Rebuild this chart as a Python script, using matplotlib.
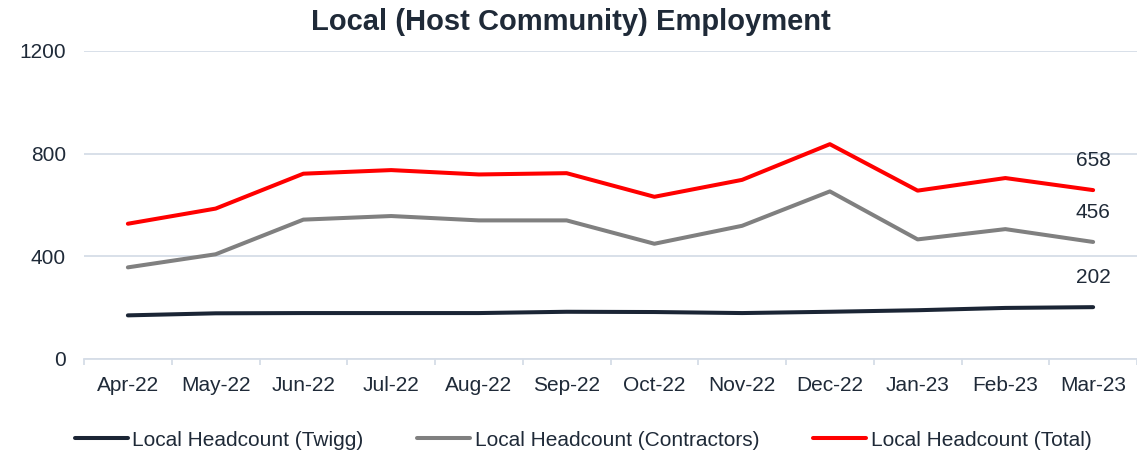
import numpy as np
import matplotlib.pyplot as plt

# data
months = ['Apr-22', 'May-22', 'Jun-22', 'Jul-22', 'Aug-22', 'Sep-22',
          'Oct-22', 'Nov-22', 'Dec-22', 'Jan-23', 'Feb-23', 'Mar-23']
twigg = [170, 178, 179, 179, 179, 184, 183, 179, 184, 190, 199, 202]
contractors = [357, 408, 543, 557, 540, 540, 449, 519, 653, 466, 506, 456]
total = [527, 586, 722, 736, 719, 724, 632, 698, 837, 656, 705, 658]

series = [
    ('Local Headcount (Twigg)', twigg, '#1b2535'),
    ('Local Headcount (Contractors)', contractors, '#808080'),
    ('Local Headcount (Total)', total, '#ff0000'),
]

TEXT = '#1f2a38'
GRID = '#d6dde7'

plt.rcParams['font.family'] = ['Liberation Sans', 'DejaVu Sans']

W, H = 1137, 453
fig = plt.figure(figsize=(W / 100, H / 100), dpi=100)
ax = fig.add_axes([84 / W, (H - 359) / H, (W - 84) / W, (359 - 51) / H])

x = np.arange(len(months))
for name, vals, col in series:
    ax.plot(x, vals, color=col, lw=2.9, label=name, solid_capstyle='round')
    # end-of-series value label
    ax.annotate(str(vals[-1]), (x[-1], vals[-1]), xytext=(0, 21),
                textcoords='offset points', ha='center', va='center',
                fontsize=15, color=TEXT)

ax.set_ylim(0, 1200)
ax.set_yticks([0, 400, 800, 1200])
ax.set_xlim(-0.5, 11.45)
ax.set_xticks(x)
ax.set_xticklabels(months)
ax.set_xticks(np.arange(-0.5, 12, 1.0), minor=True)

ax.grid(axis='y', color=GRID, lw=1.3)
ax.set_axisbelow(True)
for s in ['top', 'right', 'left']:
    ax.spines[s].set_visible(False)
ax.spines['bottom'].set_color(GRID)
ax.spines['bottom'].set_linewidth(1.3)

ax.tick_params(axis='y', length=0, pad=13, labelsize=15, labelcolor=TEXT)
ax.tick_params(axis='x', which='major', length=0, pad=12, labelsize=15, labelcolor=TEXT)
ax.tick_params(axis='x', which='minor', length=4, width=1.3, color=GRID)

fig.text(570.5 / W, 1 - 22 / H, 'Local (Host Community) Employment',
         ha='center', va='center', fontsize=21, fontweight='bold', color=TEXT)

leg = fig.legend(loc='center', bbox_to_anchor=(583 / W, 1 - 440 / H), ncol=3,
                 frameon=False, fontsize=15, handlelength=2.55,
                 handletextpad=0.2, columnspacing=2.6)
for t in leg.get_texts():
    t.set_color(TEXT)

fig.savefig('out.png', dpi=100)
